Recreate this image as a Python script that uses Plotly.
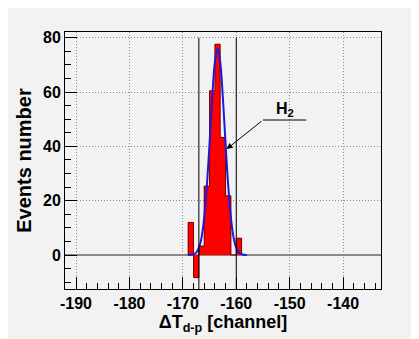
import plotly.graph_objects as go

# ---- data ----
bin_centers = [-168.5, -167.5, -166.5, -165.5, -164.5, -163.5, -162.5, -161.5, -160.5, -159.5]
bin_counts = [12.0, -8.3, 3.3, 25.4, 60.5, 77.6, 43.3, 21.8, 0.0, 6.2]

fit_x = [-169.0, -168.5, -168.0, -167.5, -167.0, -166.5, -166.0, -165.5, -165.0, -164.5,
         -164.0, -163.5, -163.0, -162.5, -162.0, -161.5, -161.0, -160.5, -160.0, -159.5,
         -159.0, -158.5, -158.0]
fit_y = [0.0, 0.1, 0.3, 0.9, 2.6, 6.4, 13.7, 25.4, 41.0, 57.8,
         71.0, 76.0, 71.0, 57.8, 41.0, 25.4, 13.7, 6.4, 2.6, 0.9,
         0.3, 0.1, 0.0]

window_edges = [-167.0, -160.0]
window_top = 80.0

x_ticks = [-190, -180, -170, -160, -150, -140]
y_ticks = [0, 20, 40, 60, 80]

label_text = "H<sub>2</sub>"
label_pos = (-150.9, 53.5)
arrow_tip = (-161.8, 39.0)
arrow_tail = (-155.0, 49.7)
label_line_end = -146.9

BIN_W = 1.0
BG = "#f2f2f2"
FONT = "Liberation Sans, Arial, Helvetica, sans-serif"

fig = go.Figure()

fig.add_trace(go.Bar(
    x=bin_centers, y=bin_counts, width=BIN_W,
    marker=dict(color="#ff0000", line=dict(width=0)),
    showlegend=False,
))

# histogram outline (step contour) built from the same bins
out_x = [bin_centers[0] - BIN_W / 2]
out_y = [0.0]
for c, v in zip(bin_centers, bin_counts):
    out_x.append(c - BIN_W / 2)
    out_y.append(v)
out_x.append(bin_centers[-1] + BIN_W / 2)
out_y.append(bin_counts[-1])
out_x.append(bin_centers[-1] + BIN_W / 2)
out_y.append(0.0)
fig.add_trace(go.Scatter(
    x=out_x, y=out_y, mode="lines", line=dict(color="#7a0000", width=1, shape="hv"),
    showlegend=False, hoverinfo="skip",
))

fig.add_trace(go.Scatter(
    x=fit_x, y=fit_y, mode="lines", line=dict(color="#1a1ad8", width=2, shape="spline"),
    showlegend=False,
))

for xe in window_edges:
    fig.add_shape(type="line", xref="x", yref="y", x0=xe, x1=xe, y0=-12.5, y1=window_top,
                  line=dict(color="black", width=1))

fig.add_shape(type="line", xref="x", yref="y", x0=arrow_tail[0], x1=label_line_end,
              y0=arrow_tail[1], y1=arrow_tail[1], line=dict(color="black", width=1))

fig.add_annotation(x=arrow_tip[0], y=arrow_tip[1], ax=arrow_tail[0], ay=arrow_tail[1],
                   xref="x", yref="y", axref="x", ayref="y", text="", showarrow=True,
                   arrowhead=2, arrowsize=1.2, arrowwidth=1, arrowcolor="black")

fig.add_annotation(x=label_pos[0], y=label_pos[1], xref="x", yref="y",
                   text="<b>" + label_text + "</b>", showarrow=False,
                   font=dict(family=FONT, size=16, color="black"))

axis_common = dict(
    showline=True, linecolor="black", linewidth=1, mirror=True,
    ticks="inside", ticklen=12, tickcolor="black", tickwidth=1,
    showgrid=True, gridcolor="#8c8c8c", griddash="1px,2px", gridwidth=1,
    tickfont=dict(family=FONT, size=16, color="black"),
    automargin=False,
)

fig.update_xaxes(
    range=[-192.06, -132.9], tickvals=x_ticks,
    ticktext=["<b>%d</b>" % v for v in x_ticks],
    minor=dict(dtick=2, tick0=-190, ticklen=6, ticks="inside", tickcolor="black", showgrid=False),
    title=dict(text="<b>ΔT<sub>d-p</sub> [channel]</b>", font=dict(family=FONT, size=18, color="black"), standoff=2),
    zeroline=False,
    **axis_common,
)
fig.update_yaxes(
    range=[-12.5, 82.1], tickvals=y_ticks,
    ticktext=["<b>%d</b>" % v for v in y_ticks],
    minor=dict(dtick=5, tick0=0, ticklen=6, ticks="inside", tickcolor="black", showgrid=False),
    title=dict(text="<b>Events number</b>", font=dict(family=FONT, size=20, color="black"), standoff=6),
    zeroline=True, zerolinecolor="#888888", zerolinewidth=2,
    **axis_common,
)

fig.update_layout(
    width=419, height=339,
    margin=dict(l=57, r=46, t=24, b=58),
    paper_bgcolor=BG, plot_bgcolor=BG,
    bargap=0,
)

fig.write_html("out.html")
